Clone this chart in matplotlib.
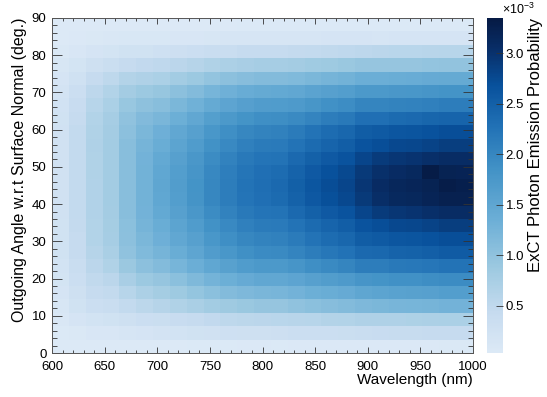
import numpy as np
import matplotlib
matplotlib.use('Agg')
import matplotlib.pyplot as plt
from matplotlib.colors import LinearSegmentedColormap
from matplotlib.ticker import MultipleLocator, FormatStrFormatter

plt.rcParams['font.family'] = ['Liberation Sans', 'DejaVu Sans']
plt.rcParams['mathtext.fontset'] = 'custom'
plt.rcParams['mathtext.rm'] = 'Liberation Sans'

# bin edges (16 nm wavelength bins, 3.6 deg angle bins)
wl_edges = np.arange(600, 1001, 16)
angle_edges = np.arange(0, 90.01, 3.6)

# emission probability in units of 1e-3, rows go from 0 deg (bottom) up to 90 deg (top)
prob = np.array([
    [0.03,0.03,0.03,0.03,0.04,0.04,0.04,0.04,0.05,0.05,0.05,0.06,0.06,0.05,0.06,0.06,0.06,0.06,0.06,0.06,0.06,0.06,0.06,0.07,0.07],
    [0.05,0.08,0.11,0.12,0.15,0.17,0.20,0.22,0.24,0.26,0.28,0.29,0.30,0.31,0.33,0.34,0.35,0.36,0.38,0.40,0.41,0.41,0.42,0.43,0.43],
    [0.09,0.16,0.22,0.24,0.29,0.34,0.36,0.40,0.44,0.48,0.51,0.54,0.56,0.57,0.58,0.60,0.63,0.64,0.68,0.68,0.69,0.70,0.71,0.72,0.72],
    [0.13,0.24,0.33,0.37,0.46,0.54,0.61,0.67,0.74,0.81,0.86,0.91,0.94,0.95,1.00,1.05,1.09,1.12,1.18,1.20,1.23,1.24,1.26,1.28,1.28],
    [0.16,0.30,0.42,0.46,0.60,0.71,0.79,0.87,0.96,1.05,1.12,1.18,1.22,1.23,1.28,1.34,1.39,1.43,1.50,1.54,1.58,1.59,1.61,1.64,1.64],
    [0.19,0.35,0.49,0.56,0.75,0.88,0.95,1.05,1.16,1.27,1.35,1.43,1.47,1.48,1.53,1.60,1.66,1.71,1.80,1.82,1.86,1.87,1.90,1.93,1.93],
    [0.22,0.39,0.56,0.67,0.89,1.03,1.12,1.24,1.36,1.49,1.59,1.68,1.73,1.74,1.80,1.89,1.96,2.02,2.12,2.13,2.17,2.19,2.22,2.26,2.26],
    [0.24,0.42,0.61,0.74,0.99,1.15,1.25,1.39,1.52,1.67,1.78,1.88,1.94,1.96,2.03,2.12,2.20,2.27,2.39,2.40,2.46,2.47,2.51,2.55,2.55],
    [0.25,0.44,0.64,0.78,1.03,1.21,1.33,1.47,1.61,1.77,1.89,1.99,2.05,2.07,2.15,2.25,2.34,2.41,2.54,2.56,2.62,2.63,2.67,2.71,2.71],
    [0.25,0.45,0.65,0.79,1.05,1.25,1.39,1.54,1.68,1.85,1.97,2.08,2.15,2.16,2.25,2.36,2.45,2.52,2.66,2.71,2.77,2.79,2.83,2.88,2.88],
    [0.26,0.46,0.66,0.80,1.07,1.28,1.45,1.60,1.76,1.93,2.06,2.17,2.24,2.26,2.38,2.49,2.58,2.66,2.80,2.90,2.96,2.98,3.03,3.07,3.07],
    [0.26,0.46,0.66,0.81,1.08,1.29,1.49,1.65,1.81,1.99,2.12,2.24,2.31,2.36,2.48,2.59,2.69,2.77,2.92,3.05,3.12,3.14,3.19,3.24,3.24],
    [0.26,0.46,0.66,0.81,1.08,1.29,1.50,1.66,1.82,2.00,2.13,2.25,2.32,2.38,2.50,2.62,2.72,2.80,2.95,3.08,3.15,3.17,3.22,3.30,3.27],
    [0.26,0.46,0.67,0.82,1.08,1.29,1.49,1.64,1.80,1.98,2.11,2.23,2.30,2.34,2.46,2.58,2.68,2.76,2.91,3.02,3.09,3.12,3.32,3.22,3.20],
    [0.26,0.46,0.67,0.82,1.08,1.28,1.45,1.60,1.76,1.93,2.06,2.17,2.24,2.26,2.38,2.49,2.58,2.66,2.80,2.90,2.96,2.98,3.03,3.07,3.07],
    [0.26,0.46,0.68,0.82,1.07,1.25,1.39,1.54,1.68,1.85,1.97,2.08,2.15,2.16,2.25,2.36,2.45,2.52,2.66,2.71,2.77,2.79,2.83,2.88,2.88],
    [0.26,0.46,0.67,0.80,1.04,1.21,1.33,1.47,1.61,1.77,1.89,1.99,2.05,2.07,2.15,2.25,2.34,2.41,2.54,2.56,2.62,2.63,2.67,2.71,2.71],
    [0.25,0.44,0.65,0.78,1.00,1.14,1.22,1.35,1.48,1.63,1.74,1.83,1.89,1.90,1.95,2.04,2.12,2.18,2.30,2.31,2.36,2.38,2.42,2.45,2.45],
    [0.23,0.40,0.60,0.73,0.92,1.02,1.08,1.20,1.31,1.44,1.53,1.62,1.67,1.68,1.71,1.79,1.86,1.92,2.02,2.02,2.05,2.06,2.09,2.13,2.13],
    [0.20,0.34,0.53,0.64,0.80,0.88,0.93,1.03,1.13,1.24,1.32,1.40,1.44,1.45,1.48,1.55,1.60,1.65,1.74,1.74,1.76,1.78,1.80,1.83,1.83],
    [0.17,0.27,0.42,0.52,0.63,0.68,0.73,0.81,0.88,0.97,1.03,1.09,1.13,1.13,1.15,1.21,1.25,1.29,1.36,1.36,1.39,1.40,1.42,1.44,1.44],
    [0.13,0.19,0.29,0.36,0.44,0.48,0.50,0.56,0.61,0.67,0.71,0.75,0.78,0.78,0.80,0.84,0.87,0.90,0.94,0.94,0.95,0.95,0.97,0.98,0.98],
    [0.08,0.11,0.16,0.19,0.24,0.25,0.28,0.31,0.34,0.37,0.39,0.42,0.43,0.43,0.45,0.47,0.49,0.50,0.53,0.55,0.57,0.57,0.58,0.59,0.59],
    [0.04,0.06,0.08,0.09,0.10,0.10,0.10,0.11,0.12,0.13,0.14,0.15,0.15,0.15,0.15,0.15,0.16,0.16,0.17,0.15,0.16,0.16,0.16,0.16,0.16],
    [0.03,0.04,0.04,0.04,0.04,0.04,0.04,0.04,0.04,0.04,0.04,0.05,0.05,0.05,0.05,0.05,0.05,0.05,0.05,0.05,0.05,0.05,0.05,0.05,0.05],
])

cbar_ticks = [0.5, 1.0, 1.5, 2.0, 2.5, 3.0]

cmap = LinearSegmentedColormap.from_list('exct_blues', [
    (0.00, '#dce9f6'), (0.12, '#c6dbef'), (0.25, '#9ecae1'), (0.40, '#6baed6'),
    (0.55, '#4292c6'), (0.68, '#2171b5'), (0.80, '#08519c'), (0.90, '#08306b'),
    (1.00, '#061a44')])

fig = plt.figure(figsize=(5.47, 3.97), dpi=100)
ax = fig.add_axes([52/547, 44/397, 421/547, 335/397])
mesh = ax.pcolormesh(wl_edges, angle_edges, prob, cmap=cmap, vmin=0.03, vmax=3.35,
                     shading='flat', edgecolors='face', linewidth=0, antialiased=False)

ax.set_xlim(600, 1000)
ax.set_ylim(0, 90)
ax.xaxis.set_major_locator(MultipleLocator(50))
ax.xaxis.set_minor_locator(MultipleLocator(10))
ax.yaxis.set_major_locator(MultipleLocator(10))
ax.yaxis.set_minor_locator(MultipleLocator(2))
ax.tick_params(which='both', direction='in', top=True, right=True, labelsize=9.5,
               width=0.6, color='#333333')
ax.tick_params(axis='x', which='major', length=4.5, pad=6)
ax.tick_params(axis='x', which='minor', length=2.2)
ax.tick_params(axis='y', which='major', length=7, pad=4)
ax.tick_params(axis='y', which='minor', length=3.5)
for s in ax.spines.values():
    s.set_linewidth(0.7)
    s.set_color('#555555')

ax.set_xlabel('Wavelength (nm)', loc='right', fontsize=11, labelpad=0)
ax.set_ylabel('Outgoing Angle w.r.t Surface Normal (deg.)', loc='top', fontsize=11.5, labelpad=3)

cax = fig.add_axes([487/547, 44/397, 16/547, 335/397])
cb = fig.colorbar(mesh, cax=cax, ticks=cbar_ticks)
cb.ax.yaxis.set_major_formatter(FormatStrFormatter('%.1f'))
cb.ax.tick_params(direction='in', length=5, width=0.6, labelsize=9.5, pad=2, color='#333333')
cb.outline.set_visible(False)
cb.set_label('ExCT Photon Emission Probability', loc='top', fontsize=12, labelpad=3)
fig.text(502/547, 1 - 9/397, r'$\times10^{-3}$', fontsize=9, ha='left', va='center')

fig.savefig('out.png', dpi=100)
